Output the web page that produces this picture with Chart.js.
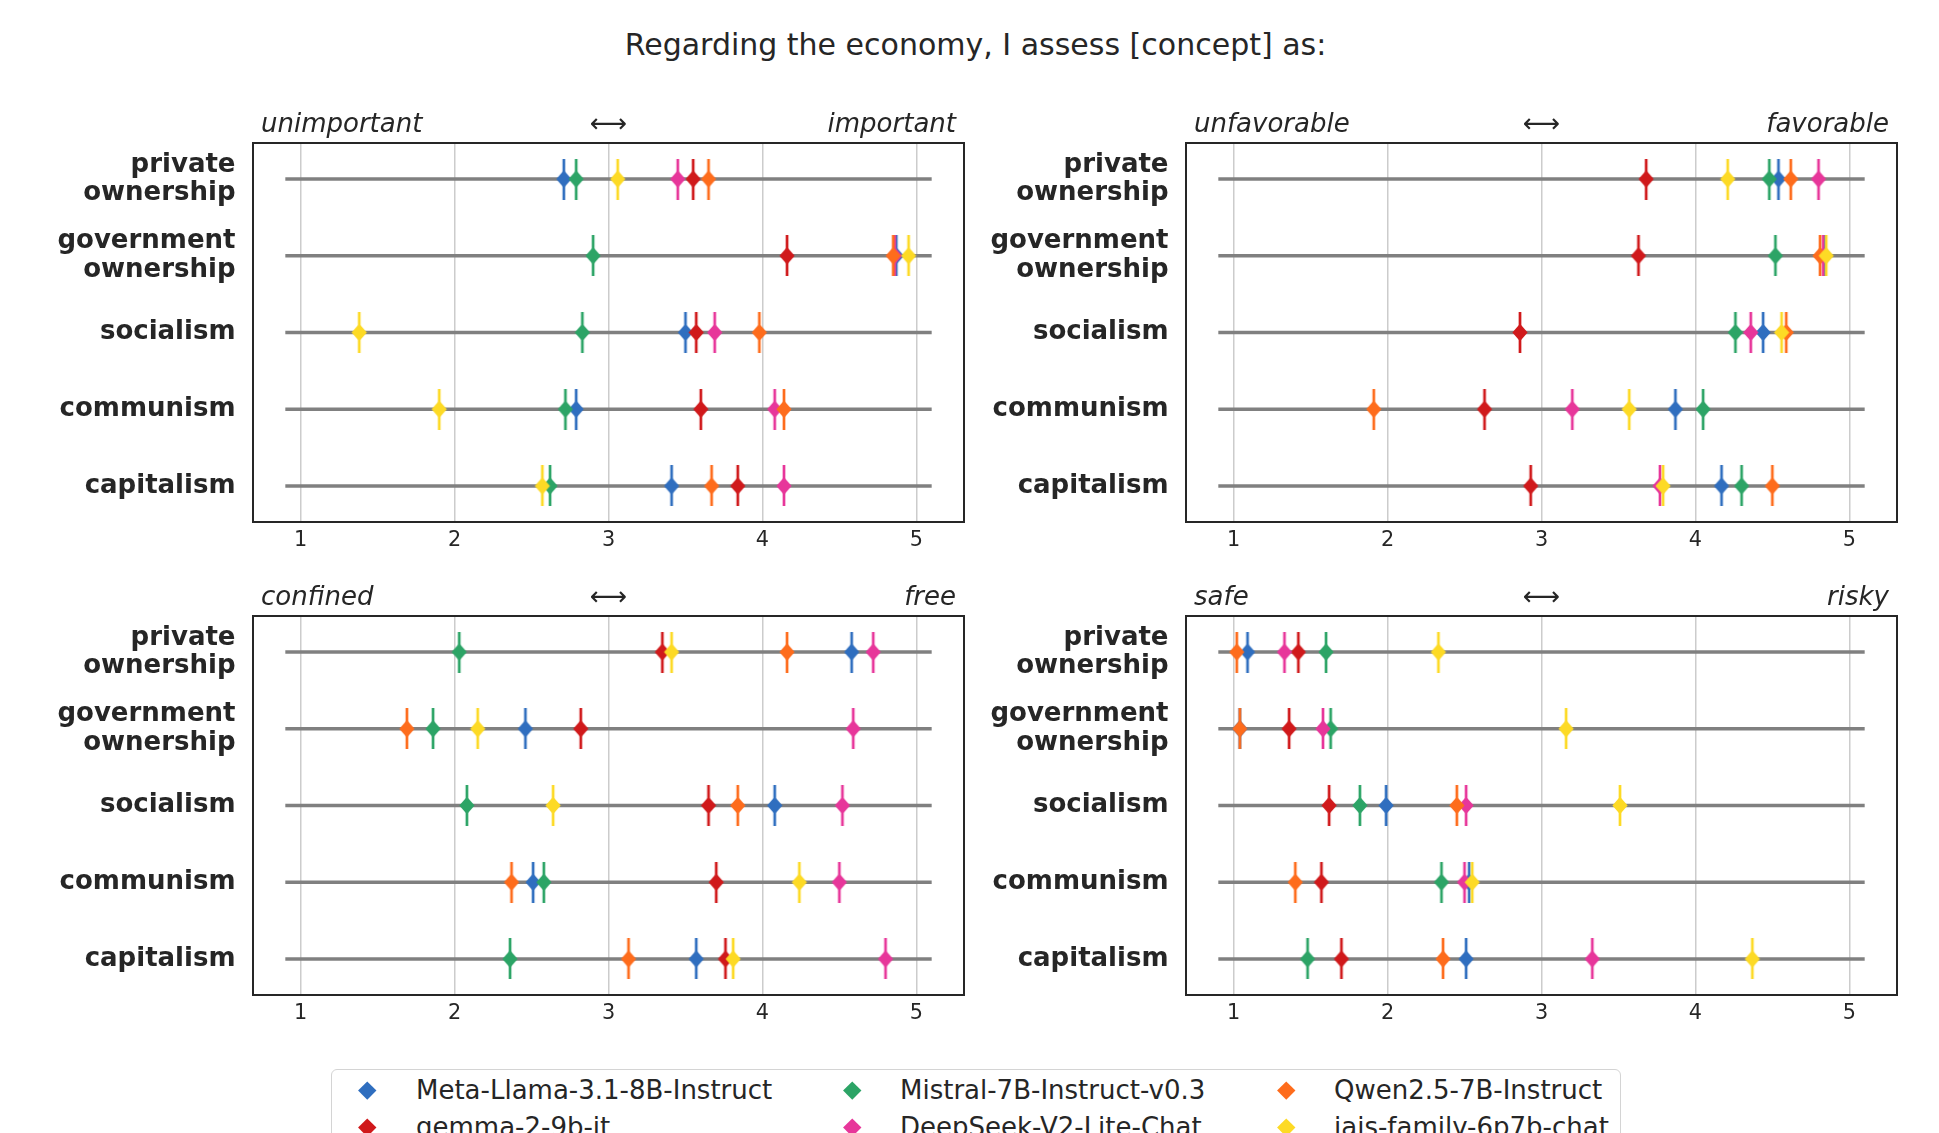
<!DOCTYPE html>
<html>
<head>
<meta charset="utf-8">
<script src="https://cdn.jsdelivr.net/npm/chart.js@4.4.1/dist/chart.umd.min.js"></script>
<style>
html,body{margin:0;padding:0;background:#fff;width:1939px;height:1133px;overflow:hidden;font-family:"DejaVu Sans";color:#262626}
#title{position:absolute;left:0;top:30px;width:1951px;text-align:center;font-size:30px;line-height:1;white-space:nowrap}
canvas{position:absolute}
#legend{position:absolute;left:331px;top:1069px;width:1290px;height:120px;border:1.5px solid #d4d4d4;border-radius:6px;box-sizing:border-box;background:#fff}
.item{position:absolute;font-size:26px;line-height:30px;white-space:nowrap;color:#262626}
.mk{position:absolute;width:12.5px;height:12.5px;transform:rotate(45deg)}
</style>
</head>
<body>
<div id="title">Regarding the economy, I assess [concept] as:</div>
<div id="legend"></div>
<script>
// ---------- data ----------
const categories = ['private ownership', 'government ownership', 'socialism', 'communism', 'capitalism'];
const models = ['Meta-Llama-3.1-8B-Instruct', 'gemma-2-9b-it', 'Mistral-7B-Instruct-v0.3', 'DeepSeek-V2-Lite-Chat', 'Qwen2.5-7B-Instruct', 'jais-family-6p7b-chat'];
const modelColors = ['#2f6ebf', '#d0191b', '#2ca466', '#e7369a', '#fe6c1c', '#fdda25'];
const leftPoles = ['unimportant', 'unfavorable', 'confined', 'safe'];
const rightPoles = ['important', 'favorable', 'free', 'risky'];
const xTicks = [1, 2, 3, 4, 5];
const lineExtent = [0.9, 5.1];

// rows follow the order of `models`, columns the order of `categories`
const valuesImportant = [
  [2.71, 4.87, 3.50, 2.79, 3.41],
  [3.55, 4.16, 3.57, 3.60, 3.84],
  [2.79, 2.90, 2.83, 2.72, 2.62],
  [3.45, 4.86, 3.69, 4.08, 4.14],
  [3.65, 4.85, 3.98, 4.14, 3.67],
  [3.06, 4.95, 1.38, 1.90, 2.57]
];
const valuesFavorable = [
  [4.54, 4.84, 4.44, 3.87, 4.17],
  [3.68, 3.63, 2.86, 2.63, 2.93],
  [4.48, 4.52, 4.26, 4.05, 4.30],
  [4.80, 4.83, 4.36, 3.20, 3.77],
  [4.62, 4.81, 4.59, 1.91, 4.50],
  [4.21, 4.85, 4.56, 3.57, 3.79]
];
const valuesFree = [
  [4.58, 2.46, 4.08, 2.51, 3.57],
  [3.35, 2.82, 3.65, 3.70, 3.76],
  [2.03, 1.86, 2.08, 2.58, 2.36],
  [4.72, 4.59, 4.52, 4.50, 4.80],
  [4.16, 1.69, 3.84, 2.37, 3.13],
  [3.41, 2.15, 2.64, 4.24, 3.81]
];
const valuesRisky = [
  [1.09, 1.04, 1.99, 2.53, 2.51],
  [1.42, 1.36, 1.62, 1.57, 1.70],
  [1.60, 1.63, 1.82, 2.35, 1.48],
  [1.33, 1.58, 2.51, 2.50, 3.33],
  [1.02, 1.04, 2.45, 1.40, 2.36],
  [2.33, 3.16, 3.51, 2.55, 4.37]
];

// ---------- marker images (error bar + diamond) ----------
function makeMarker(color) {
  const c = document.createElement('canvas');
  c.width = 18; c.height = 41;
  const g = c.getContext('2d');
  g.fillStyle = color;
  g.fillRect(9 - 1.35, 0, 2.7, 41);
  g.beginPath();
  g.moveTo(9, 20.5 - 8.7);
  g.lineTo(9 + 7.6, 20.5);
  g.lineTo(9, 20.5 + 8.7);
  g.lineTo(9 - 7.6, 20.5);
  g.closePath();
  g.fill();
  return c;
}
const markerImages = modelColors.map(makeMarker);

const framePlugin = {
  id: 'frame',
  afterDraw(chart, args, opts) {
    const {ctx, chartArea: a} = chart;
    ctx.save();
    ctx.strokeStyle = '#262626';
    ctx.lineWidth = 2;
    ctx.strokeRect(a.left, a.top, a.right - a.left, a.bottom - a.top);
    ctx.fillStyle = '#262626';
    ctx.textBaseline = 'alphabetic';
    ctx.font = 'italic 26px "DejaVu Sans"';
    ctx.textAlign = 'left';
    ctx.fillText(opts.leftText, a.left + 8, a.top - 11);
    ctx.textAlign = 'right';
    ctx.fillText(opts.rightText, a.right - 8, a.top - 11);
    ctx.textAlign = 'center';
    ctx.font = '26px "DejaVu Sans"';
    ctx.fillText('\u27F7', (a.left + a.right) / 2, a.top - 11);
    ctx.restore();
  }
};

function makePanel(left, top, width, rightPad, yAxisWidth, values, p) {
  const cv = document.createElement('canvas');
  cv.width = width; cv.height = 462;
  cv.style.left = left + 'px'; cv.style.top = top + 'px';
  cv.style.width = width + 'px'; cv.style.height = '462px';
  document.body.appendChild(cv);
  const datasets = [];
  categories.forEach((c, i) => {
    datasets.push({
      data: [{x: lineExtent[0], y: i}, {x: lineExtent[1], y: i}],
      showLine: true, borderColor: '#808080', borderWidth: 3.5,
      pointRadius: 0, order: 100
    });
  });
  models.forEach((m, k) => {
    datasets.push({
      label: m,
      data: values[k].map((v, i) => ({x: v, y: i})),
      pointStyle: markerImages[k], pointRadius: 5,
      backgroundColor: modelColors[k], borderColor: modelColors[k],
      order: models.length - k
    });
  });
  new Chart(cv, {
    type: 'scatter',
    data: {datasets},
    plugins: [framePlugin],
    options: {
      responsive: false, animation: false, events: [],
      layout: {padding: {top: 43, right: rightPad, left: 0, bottom: 0}},
      plugins: {
        legend: {display: false}, tooltip: {enabled: false},
        frame: {leftText: leftPoles[p], rightText: rightPoles[p]}
      },
      scales: {
        x: {
          type: 'linear', min: 0.69, max: 5.31,
          afterBuildTicks: s => { s.ticks = xTicks.map(v => ({value: v})); },
          afterFit: s => { s.height = 40; s.paddingLeft = 0; s.paddingRight = 0; },
          ticks: {font: {family: 'DejaVu Sans', size: 20.8}, color: '#262626', padding: 6},
          grid: {color: '#cccccc', lineWidth: 1.5, drawTicks: false},
          border: {display: false}
        },
        y: {
          type: 'linear', reverse: true, min: -0.47, max: 4.47,
          afterBuildTicks: s => { s.ticks = categories.map((c, i) => ({value: i})); },
          afterFit: s => { s.width = yAxisWidth; s.paddingTop = 0; s.paddingBottom = 0; },
          ticks: {
            callback: v => categories[v].split(' '),
            font: {family: 'DejaVu Sans', size: 26, weight: 'bold', lineHeight: 1.1},
            color: '#262626', padding: 17.5
          },
          grid: {display: false, drawTicks: false},
          border: {display: false}
        }
      }
    }
  });
}

makePanel(0, 100, 975, 11, 253, valuesImportant, 0);
makePanel(975, 100, 964, 42, 211, valuesFavorable, 1);
makePanel(0, 573, 975, 11, 253, valuesFree, 2);
makePanel(975, 573, 964, 42, 211, valuesRisky, 3);

// ---------- legend ----------
const legendMarkX = [367, 852, 1286];
const legendTextX = [416, 900, 1334];
const legendRowY = [1090, 1127];
models.forEach((m, k) => {
  const col = Math.floor(k / 2), row = k % 2;
  const mk = document.createElement('div');
  mk.className = 'mk';
  mk.style.background = modelColors[k];
  mk.style.left = (legendMarkX[col] - 6.25) + 'px';
  mk.style.top = (legendRowY[row] - 6.25) + 'px';
  document.body.appendChild(mk);
  const t = document.createElement('div');
  t.className = 'item';
  t.textContent = m;
  t.style.left = legendTextX[col] + 'px';
  t.style.top = (legendRowY[row] - 15) + 'px';
  document.body.appendChild(t);
});
</script>
</body>
</html>
